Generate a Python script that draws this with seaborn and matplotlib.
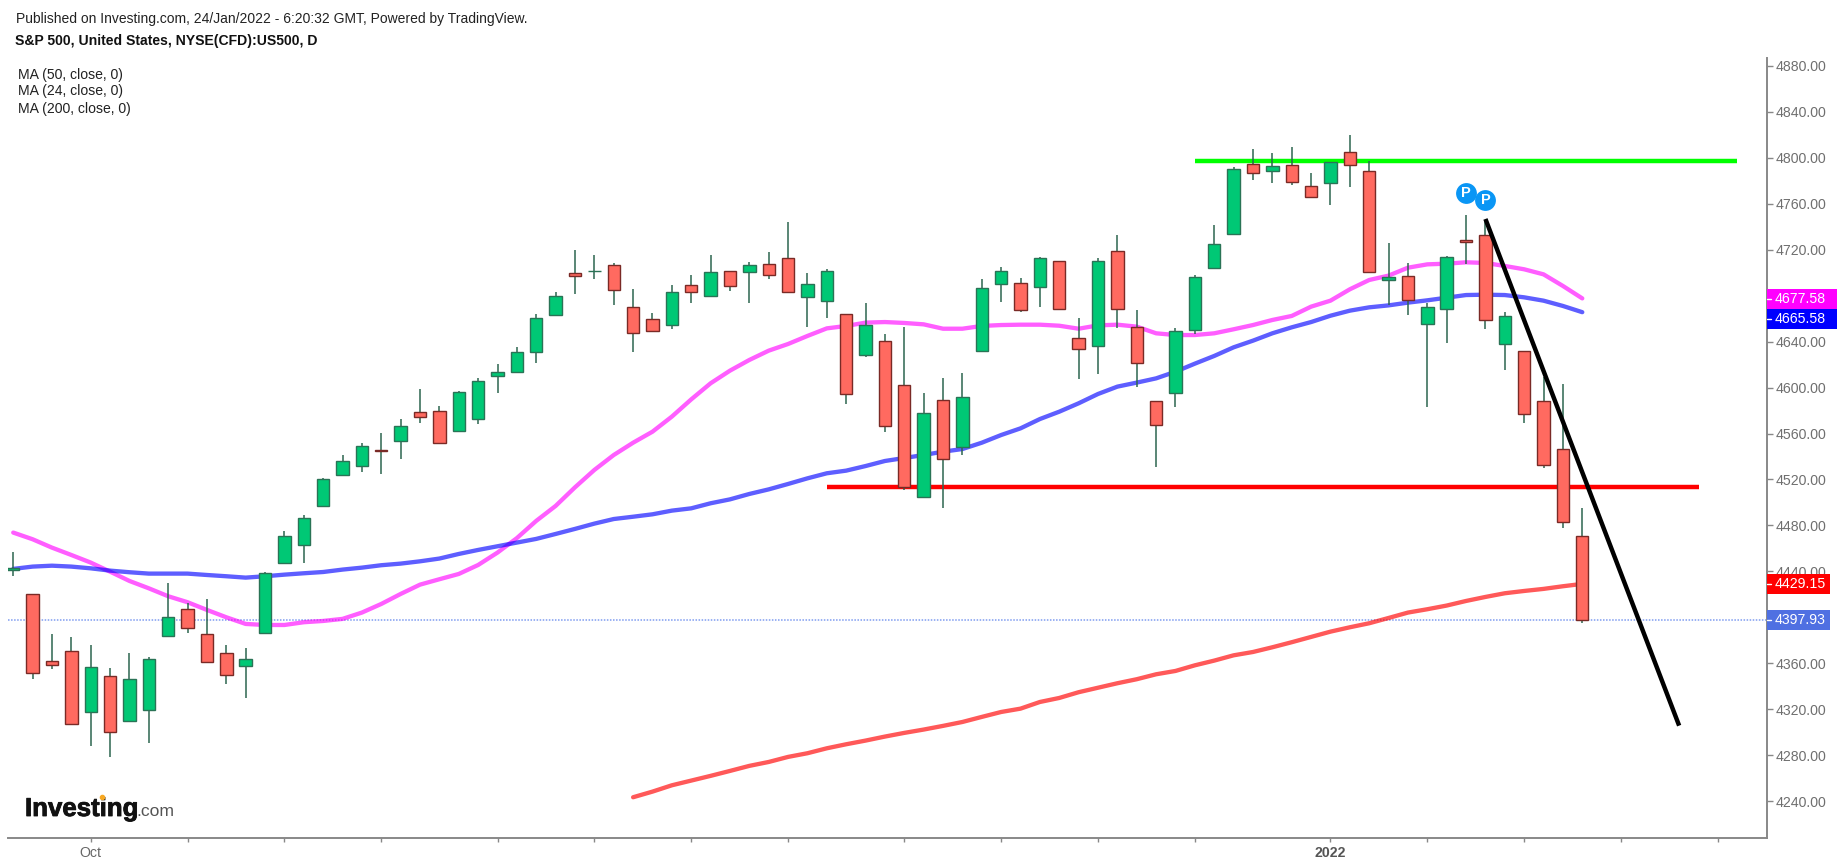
import numpy as np
import seaborn as sns
import matplotlib.pyplot as plt
import matplotlib.patheffects as pe
from matplotlib.lines import Line2D
from matplotlib.patches import Rectangle

W, H = 1837, 866

# candles, one per session
opens = [4441.0, 4420.1, 4362.4, 4371.1, 4317.4, 4349.1, 4309.6, 4319.5, 4383.9, 4407.1,
         4385.3, 4368.8, 4357.8, 4386.8, 4447.7, 4463.0, 4497.0, 4523.9, 4531.5, 4546.0,
         4553.5, 4578.5, 4579.6, 4562.2, 4572.9, 4610.1, 4613.3, 4630.7, 4663.1, 4699.4,
         4701.1, 4706.9, 4669.8, 4659.4, 4654.4, 4689.5, 4679.7, 4701.7, 4700.3, 4707.8,
         4712.4, 4678.5, 4675.0, 4664.3, 4628.3, 4640.8, 4602.5, 4504.5, 4589.5, 4548.0,
         4631.8, 4690.4, 4690.7, 4687.2, 4710.1, 4642.8, 4636.2, 4718.8, 4652.4, 4588.3,
         4595.0, 4650.4, 4703.7, 4733.9, 4794.8, 4788.4, 4793.9, 4775.4, 4777.7, 4804.7,
         4788.4, 4693.6, 4697.1, 4655.6, 4668.6, 4728.7, 4733.0, 4638.2, 4632.1, 4588.3,
         4546.8, 4470.9]
highs = [4457.2, 4420.5, 4385.6, 4383.3, 4375.7, 4355.7, 4369.1, 4365.9, 4429.7, 4412.3,
         4415.8, 4375.7, 4373.1, 4439.8, 4475.5, 4488.9, 4521.0, 4541.0, 4551.5, 4560.2,
         4572.4, 4598.5, 4584.2, 4597.3, 4608.0, 4620.2, 4635.6, 4663.7, 4683.4, 4719.7,
         4715.0, 4708.1, 4685.5, 4664.6, 4688.9, 4697.6, 4715.0, 4701.7, 4709.2, 4718.0,
         4744.3, 4699.4, 4702.9, 4664.3, 4673.6, 4646.3, 4653.0, 4595.0, 4608.0, 4612.4,
         4694.2, 4705.2, 4695.0, 4713.9, 4710.1, 4660.2, 4712.4, 4732.4, 4667.2, 4588.3,
         4651.5, 4697.6, 4741.2, 4792.2, 4807.3, 4803.8, 4809.6, 4786.4, 4796.3, 4819.5,
         4797.4, 4725.5, 4708.1, 4673.3, 4714.8, 4749.8, 4745.0, 4665.7, 4632.1, 4609.5,
         4603.1, 4494.9]
lows = [4436.4, 4346.2, 4354.9, 4307.0, 4288.4, 4278.9, 4309.0, 4291.0, 4383.6, 4386.8,
        4361.0, 4342.1, 4330.2, 4386.8, 4447.7, 4447.7, 4496.4, 4523.9, 4526.8, 4524.5,
        4537.5, 4569.5, 4551.5, 4562.2, 4568.3, 4595.6, 4613.3, 4621.7, 4662.3, 4681.4,
        4694.2, 4671.5, 4631.2, 4648.9, 4650.7, 4673.9, 4679.7, 4684.3, 4673.9, 4694.5,
        4682.9, 4653.0, 4660.8, 4585.7, 4626.3, 4561.0, 4510.9, 4504.5, 4495.5, 4541.0,
        4631.8, 4674.7, 4666.0, 4670.4, 4668.6, 4607.4, 4611.5, 4652.1, 4600.8, 4531.2,
        4583.4, 4646.6, 4703.7, 4733.9, 4780.3, 4778.3, 4776.0, 4765.5, 4758.6, 4774.8,
        4700.3, 4671.5, 4662.8, 4582.8, 4639.1, 4707.5, 4651.0, 4615.3, 4569.4, 4530.3,
        4478.1, 4395.5]
closes = [4442.6, 4352.0, 4358.6, 4307.3, 4356.6, 4300.0, 4346.2, 4363.6, 4400.4, 4391.1,
          4361.0, 4349.9, 4363.6, 4438.4, 4470.9, 4486.2, 4520.1, 4536.4, 4549.2, 4544.6,
          4566.5, 4574.1, 4551.5, 4595.9, 4605.7, 4613.3, 4630.7, 4660.2, 4679.7, 4696.8,
          4701.7, 4684.9, 4647.2, 4648.9, 4682.9, 4682.9, 4700.3, 4688.1, 4706.9, 4697.9,
          4682.9, 4690.4, 4701.4, 4594.7, 4654.7, 4566.5, 4513.2, 4577.6, 4538.1, 4591.5,
          4686.3, 4701.4, 4667.5, 4712.4, 4668.6, 4633.8, 4710.1, 4668.6, 4621.1, 4567.7,
          4649.2, 4695.9, 4725.2, 4790.5, 4786.4, 4792.8, 4778.6, 4765.5, 4796.3, 4793.7,
          4700.3, 4695.9, 4676.2, 4669.8, 4713.3, 4726.4, 4658.8, 4662.3, 4577.3, 4532.6,
          4482.8, 4397.93]

ma24 = [4473.8, 4468.0, 4460.7, 4454.3, 4447.7, 4439.8, 4431.7, 4425.3, 4418.4, 4413.2,
        4406.5, 4400.1, 4394.3, 4393.4, 4393.4, 4395.8, 4396.9, 4398.7, 4404.2, 4411.7,
        4420.4, 4428.5, 4433.2, 4437.8, 4445.6, 4456.4, 4469.0, 4484.0, 4497.0, 4513.2,
        4528.3, 4541.3, 4552.0, 4561.6, 4574.7, 4589.7, 4603.7, 4614.7, 4624.0, 4632.1,
        4637.9, 4644.9, 4651.5, 4653.6, 4656.5, 4657.0, 4656.2, 4655.0, 4651.2, 4651.2,
        4653.6, 4654.4, 4654.7, 4654.7, 4653.8, 4651.2, 4654.1, 4654.7, 4653.0, 4647.2,
        4645.7, 4645.7, 4647.2, 4650.7, 4654.4, 4658.8, 4662.3, 4670.4, 4675.6, 4685.5,
        4693.6, 4697.4, 4704.3, 4707.2, 4707.8, 4709.0, 4708.4, 4705.8, 4702.9, 4698.5,
        4688.4, 4677.58]
ma50 = [4442.2, 4444.2, 4445.0, 4444.2, 4442.7, 4440.7, 4439.3, 4438.1, 4438.1, 4438.1,
        4436.9, 4435.8, 4434.6, 4435.8, 4437.2, 4438.4, 4439.5, 4441.6, 4443.3, 4445.4,
        4446.8, 4448.8, 4451.2, 4455.2, 4458.7, 4461.9, 4465.1, 4468.3, 4472.6, 4477.0,
        4481.6, 4485.6, 4487.6, 4489.7, 4492.9, 4494.9, 4499.3, 4502.7, 4507.4, 4511.4,
        4516.1, 4521.0, 4525.4, 4527.7, 4531.7, 4536.1, 4538.7, 4541.3, 4544.2, 4546.5,
        4552.0, 4558.7, 4564.5, 4572.6, 4579.0, 4586.3, 4594.4, 4600.8, 4604.3, 4608.0,
        4613.8, 4620.8, 4627.5, 4635.0, 4640.8, 4647.2, 4652.4, 4657.0, 4662.5, 4666.9,
        4669.8, 4671.5, 4673.9, 4675.9, 4678.2, 4680.5, 4680.8, 4680.5, 4678.5, 4675.6,
        4671.0, 4665.58]
# MA 200 only starts at session 32 in the picture
ma200_start = 32
ma200 = [4243.5, 4248.4, 4253.9, 4258.0, 4262.1, 4266.4, 4270.8, 4274.2, 4278.6, 4281.8,
         4286.1, 4289.6, 4292.8, 4296.3, 4299.5, 4302.4, 4305.6, 4309.0, 4313.4, 4317.7,
         4320.6, 4326.4, 4329.9, 4334.9, 4338.8, 4342.7, 4346.2, 4350.5, 4353.4, 4358.3,
         4362.4, 4367.0, 4369.9, 4374.0, 4378.4, 4383.0, 4387.6, 4391.4, 4394.9, 4399.5,
         4404.2, 4407.1, 4410.3, 4414.3, 4417.8, 4421.0, 4423.0, 4424.8, 4427.1, 4429.15]

# hand drawn lines on the chart
resistance_x, resistance_y = [61, 89], [4797.5, 4797.5]
support_x, support_y = [42, 87], [4513.5, 4513.5]
trend_x, trend_y = [76, 86], [4746.7, 4305.8]
last_price = 4397.93

y_ticks = list(range(4240, 4881, 40))
x_ticks = [4, 9, 14, 19, 25, 30, 35, 40, 46, 51, 56, 61, 68, 73, 78, 83, 88]
x_labels = {4: "Oct", 68: "2022"}
pin_x, pin_y = [75, 76], [4769.0, 4763.5]

GRID = "#888888"
TXT = "#6f6f6f"
UP, DOWN = "#00c875", "#ff6a60"
UP_EDGE, DOWN_EDGE = "#2a7356", "#7a2a26"
WICK = "#2c6650"

sns.set_theme(style="white")
plt.rcParams["font.family"] = ["Liberation Sans", "DejaVu Sans"]

fig = plt.figure(figsize=(W / 100, H / 100), dpi=100, facecolor="white")
# axes box in pixels
L, R, T, B = 8, 1766.7, 58.3, 837.7
ax = fig.add_axes([L / W, 1 - B / H, (R - L) / W, (B - T) / H])
ax.set_xlim(-0.27, 90.52)
ax.set_ylim(4208.3, 4886.5)

idx = np.arange(len(opens))
o, h, l, c = map(np.array, (opens, highs, lows, closes))
up = c >= o

# drawings under the candles
ax.plot(resistance_x, resistance_y, color="#00ff00", lw=3.2, solid_capstyle="butt", zorder=2)
ax.plot(support_x, support_y, color="#ff0000", lw=3.2, solid_capstyle="butt", zorder=2)
ax.axhline(last_price, color="#7f9cf0", lw=1.1, ls=(0, (1, 1)), zorder=2)

# moving averages
sns.lineplot(x=idx, y=ma24, color="#ff00ff", alpha=0.63, lw=3.1, ax=ax, zorder=2.5)
sns.lineplot(x=idx, y=ma50, color="#0000ff", alpha=0.63, lw=3.1, ax=ax, zorder=2.6)
sns.lineplot(x=np.arange(ma200_start, ma200_start + len(ma200)), y=ma200, color="#ff0000",
             alpha=0.65, lw=3.1, ax=ax, zorder=2.7)

# candles
ax.vlines(idx, l, h, color=WICK, lw=1.1, zorder=3)
ax.bar(idx[up], (c - o)[up], bottom=o[up], width=0.64, color=UP, edgecolor=UP_EDGE, lw=1.0, zorder=4)
ax.bar(idx[~up], (o - c)[~up], bottom=c[~up], width=0.64, color=DOWN, edgecolor=DOWN_EDGE, lw=1.0, zorder=4)

ax.plot(trend_x, trend_y, color="black", lw=3.2, solid_capstyle="butt", zorder=5)

# published pins
ax.scatter(pin_x, pin_y, s=225, color="#0a96f5", linewidths=0, zorder=6)
for px_, py_ in zip(pin_x, pin_y):
    ax.text(px_, py_, "P", color="white", fontsize=10.5, fontweight="bold", ha="center", va="center", zorder=7)

# axes
for side in ("top", "left"):
    ax.spines[side].set_visible(False)
for side in ("right", "bottom"):
    ax.spines[side].set_color(GRID)
    ax.spines[side].set_linewidth(1.4)
ax.yaxis.tick_right()
ax.set_yticks(y_ticks)
ax.set_yticklabels([f"{v:.2f}" for v in y_ticks], fontsize=10.2, color=TXT)
ax.set_xticks(x_ticks)
ax.set_xticklabels([x_labels.get(t, "") for t in x_ticks], fontsize=10.2, color="#666666")
ax.get_xticklabels()[x_ticks.index(68)].set_fontweight("bold")
ax.get_xticklabels()[x_ticks.index(68)].set_color("#555555")
ax.tick_params(axis="y", length=4, width=1, color=GRID, pad=2.5, right=True, left=False)
ax.tick_params(axis="x", length=3, width=1, color=GRID, pad=3.2, bottom=True)
ax.grid(False)


def put(x, y, s, **kw):
    # text placed by pixel position of the picture
    kw.setdefault("va", "center")
    kw.setdefault("color", "#222222")
    return fig.text(x / W, 1 - y / H, s, zorder=8, **kw)


# price tags on the right
tags = [("4677.58", 299.3, "#ff00ff", 1837), ("4665.58", 319.2, "#0000ff", 1837),
        ("4429.15", 584.0, "#ff0000", 1830), ("4397.93", 620.3, "#4f70e2", 1830)]
for label, yc, col, xr in tags:
    fig.add_artist(Rectangle((1767 / W, 1 - (yc + 10) / H), (xr - 1767) / W, 20 / H, transform=fig.transFigure,
                             facecolor=col, edgecolor="none", zorder=7))
    fig.add_artist(Line2D([1767 / W, 1771 / W], [1 - yc / H] * 2, color="white", lw=1, zorder=8))
    put(1775, yc, label, color="white", fontsize=10.2)

put(16, 18.5, "Published on Investing.com, 24/Jan/2022 - 6:20:32 GMT, Powered by TradingView.", fontsize=10.03)
put(14.6, 41.5, "S&P 500, United States, NYSE(CFD):US500, D", fontsize=10.1, fontweight="bold", color="#111111")
put(18, 74.5, "MA (50, close, 0)", fontsize=10.1)
put(18, 91.5, "MA (24, close, 0)", fontsize=10.1)
put(18, 108.5, "MA (200, close, 0)", fontsize=10.1)

# logo
logo = put(25, 809, "Investing", fontsize=18.6, fontweight="bold", color="#111111")
logo.set_path_effects([pe.withStroke(linewidth=0.6, foreground="#111111")])
put(136, 812, ".com", fontsize=12.6, color="#555555")
fig.add_artist(Line2D([101.7 / W], [1 - 797.3 / H], marker="o", ms=3, color="#f7a823", zorder=9, transform=fig.transFigure))

fig.savefig("out.png", dpi=100)
